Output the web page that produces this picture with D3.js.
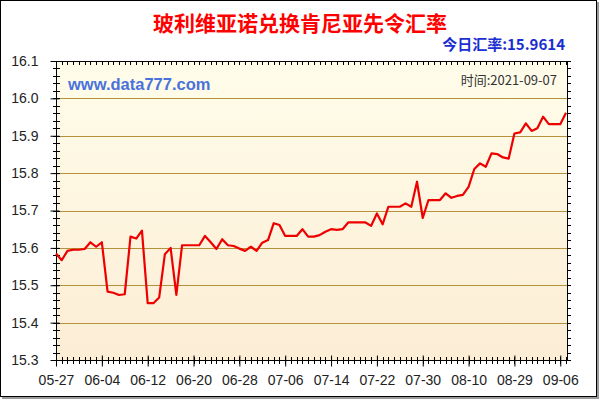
<!DOCTYPE html>
<html><head><meta charset="utf-8">
<script src="https://cdn.jsdelivr.net/npm/d3@7/dist/d3.min.js"></script>
<style>body{margin:0;background:#fff;}svg{display:block;}</style>
</head><body>
<svg id="c" width="600" height="400"></svg>
<script>
const title = "玻利维亚诺兑换肯尼亚先令汇率";
const todayLabel = "今日汇率:15.9614";
const timeLabel = "时间:2021-09-07";
const siteLabel = "www.data777.com";

const dates = [
 "05-27","05-28","05-29","05-30","05-31",
 "06-01","06-02","06-03","06-04","06-05","06-06","06-07","06-08","06-09","06-10",
 "06-11","06-12","06-13","06-14","06-15","06-16","06-17","06-18","06-19","06-20",
 "06-21","06-22","06-23","06-24","06-25","06-26","06-27","06-28","06-29","06-30",
 "07-01","07-02","07-03","07-04","07-05","07-06","07-07","07-08","07-09","07-10",
 "07-11","07-12","07-13","07-14","07-15","07-16","07-17","07-18","07-19","07-20",
 "07-21","07-22","07-23","07-24","07-25","07-26","07-27","07-28","07-29","07-30",
 "07-31","08-02","08-03","08-04","08-05","08-06","08-09","08-10",
 "08-11","08-12","08-16","08-18","08-20","08-24","08-26","08-29",
 "08-30","08-31","09-01","09-02","09-03","09-04","09-05","09-06","09-07"
];
const rates = [
 15.585,15.567,15.592,15.595,15.595,15.597,15.615,15.603,15.615,15.483,
 15.480,15.474,15.476,15.630,15.625,15.646,15.452,15.452,15.467,15.583,
 15.600,15.474,15.607,15.607,15.607,15.607,15.632,15.615,15.597,15.623,
 15.607,15.605,15.598,15.592,15.603,15.592,15.614,15.621,15.666,15.661,
 15.632,15.632,15.632,15.650,15.630,15.630,15.634,15.643,15.650,15.648,
 15.650,15.668,15.668,15.668,15.668,15.659,15.692,15.663,15.710,15.710,
 15.710,15.719,15.710,15.777,15.680,15.728,15.728,15.728,15.746,15.734,
 15.739,15.742,15.763,15.811,15.826,15.817,15.853,15.851,15.842,15.839,
 15.906,15.909,15.933,15.913,15.920,15.951,15.931,15.931,15.931,15.9614
];
const xTickLabels = ["05-27","06-04","06-12","06-20","06-28","07-06","07-14","07-22","07-30","08-10","08-29","09-06"];
const yTicks = [15.3,15.4,15.5,15.6,15.7,15.8,15.9,16.0,16.1];

const L=56, R=567, T=61, B=360;
const svg = d3.select("#c");
const font = "Arial, 'Liberation Sans', sans-serif";

// outer frame with shadow
svg.append("rect").attr("x",2).attr("y",2).attr("width",597).attr("height",397).attr("fill","#9a9a9a");
svg.append("rect").attr("x",0.5).attr("y",0.5).attr("width",596).attr("height",396).attr("fill","#fff").attr("stroke","#000");

const defs = svg.append("defs");
const g = defs.append("linearGradient").attr("id","bg").attr("x1",0).attr("y1",0).attr("x2",0).attr("y2",1);
g.append("stop").attr("offset","0%").attr("stop-color","#fffdea");
g.append("stop").attr("offset","100%").attr("stop-color","#fcedd5");

const x = d3.scaleLinear().domain([0, rates.length-1]).range([L, R-1]);
const y = d3.scaleLinear().domain([15.3, 16.1]).range([B, T]);

svg.append("rect").attr("x",L).attr("y",T).attr("width",R-L).attr("height",B-T).attr("fill","url(#bg)");

// grid
svg.append("g").selectAll("line").data(yTicks.filter(v=>v>15.31 && v<16.09)).join("line")
  .attr("x1",L).attr("x2",R).attr("y1",d=>Math.round(y(d))+0.5).attr("y2",d=>Math.round(y(d))+0.5)
  .attr("stroke","#b8923a").attr("stroke-width",1);

// plot frame
svg.append("rect").attr("x",L+0.5).attr("y",T+0.5).attr("width",R-L).attr("height",B-T)
  .attr("fill","none").attr("stroke","#000");

// minor ticks y (left crossing, right outward)
const minorY = d3.range(0,41).map(i=>15.3+i*0.02);
svg.append("g").selectAll("line").data(minorY).join("line")
  .attr("x1",L-3).attr("x2",L+4).attr("y1",d=>Math.round(y(d))+0.5).attr("y2",d=>Math.round(y(d))+0.5).attr("stroke","#000");
svg.append("g").selectAll("line").data(minorY).join("line")
  .attr("x1",R).attr("x2",R+4).attr("y1",d=>Math.round(y(d))+0.5).attr("y2",d=>Math.round(y(d))+0.5).attr("stroke","#000");
// minor ticks x (bottom crossing, top inward)
const idx = d3.range(rates.length);
svg.append("g").selectAll("line").data(idx).join("line")
  .attr("x1",d=>Math.round(x(d))+0.5).attr("x2",d=>Math.round(x(d))+0.5).attr("y1",B-3).attr("y2",B+4).attr("stroke","#000");
svg.append("g").selectAll("line").data(idx).join("line")
  .attr("x1",d=>Math.round(x(d))+0.5).attr("x2",d=>Math.round(x(d))+0.5).attr("y1",T).attr("y2",T+4).attr("stroke","#000");

// y axis
const yAxis = svg.append("g").attr("transform",`translate(${L+0.5},0)`)
  .call(d3.axisLeft(y).tickValues(yTicks).tickFormat(d3.format(".1f")).tickSize(6).tickPadding(12));
yAxis.select(".domain").remove();
yAxis.selectAll(".tick line").attr("x2",-6).attr("x1",3);
yAxis.selectAll("text").attr("font-family",font).attr("font-size",14).attr("fill","#222");

// x axis
const labelIdx = xTickLabels.map(l=>dates.indexOf(l));
const xAxis = svg.append("g").attr("transform",`translate(0,${B+0.5})`)
  .call(d3.axisBottom(x).tickValues(labelIdx).tickFormat(i=>dates[i]).tickSize(6).tickPadding(9));
xAxis.select(".domain").remove();
xAxis.selectAll(".tick line").attr("y1",-5).attr("y2",6);
xAxis.selectAll("text").attr("font-family",font).attr("font-size",14).attr("fill","#222");

// line
svg.append("path").datum(rates)
  .attr("d", d3.line().x((d,i)=>x(i)).y(d=>y(d)))
  .attr("fill","none").attr("stroke","#ee0000").attr("stroke-width",2.2).attr("stroke-linejoin","round");

// texts
svg.append("text").attr("x",300).attr("y",31).attr("text-anchor","middle")
  .attr("font-family","'Noto Sans CJK SC', sans-serif").attr("font-weight","bold").attr("font-size",21)
  .attr("fill","#ff0000").text(title);
svg.append("text").attr("x",565).attr("y",50).attr("text-anchor","end")
  .attr("font-family","'Noto Sans CJK SC', Arial, sans-serif").attr("font-weight","bold").attr("font-size",15)
  .attr("fill","#1a2fd0").text(todayLabel);
svg.append("text").attr("x",68).attr("y",90)
  .attr("font-family",font).attr("font-weight","bold").attr("font-size",16.5)
  .attr("fill","#4a72dc").text(siteLabel);
svg.append("text").attr("x",557).attr("y",85).attr("text-anchor","end")
  .attr("font-family","'Noto Sans CJK SC', Arial, sans-serif").attr("font-size",13)
  .attr("fill","#333").text(timeLabel);
</script>
</body></html>
